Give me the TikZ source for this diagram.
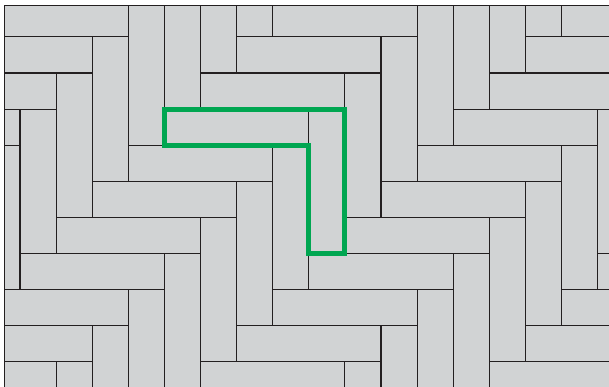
\documentclass[tikz,border=0pt]{standalone}
\usepackage{tikz}

\definecolor{brickgray}{RGB}{209,211,212}
\definecolor{brickline}{RGB}{35,31,32}
\definecolor{markgreen}{RGB}{0,166,81}

\begin{document}
\begin{tikzpicture}[
  x=1cm,y=-1cm,
  brick/.style={draw=brickline,line width=0.85pt},
  edge/.style={draw=brickline,line width=0.85pt},
  pick/.style={draw=markgreen,line width=4pt,line join=miter}
]
\useasboundingbox (-0.554,-0.022) rectangle (16.316,10.698);
\begin{scope}
  \clip (-0.424,0.136) rectangle (16.316,10.698);
  \fill[brickgray] (-0.424,0.136) rectangle (16.316,10.698);
  \foreach \n in {-3,...,4}{
    \foreach \m in {-12,...,12}{
      \pgfmathtruncatemacro{\a}{4+\m+4*\n}
      \pgfmathtruncatemacro{\b}{3-\m+4*\n}
      \draw[brick] (\a,\b) rectangle ++(4,1);
      \draw[brick] (\a+4,\b) rectangle ++(1,4);
    }
  }
\end{scope}
\draw[edge] (-0.424,10.698) -- (-0.424,0.136) -- (16.316,0.136);
\draw[pick] (4,3) -- (9,3) -- (9,7) -- (8,7) -- (8,4) -- (4,4) -- cycle;
\end{tikzpicture}
\end{document}
